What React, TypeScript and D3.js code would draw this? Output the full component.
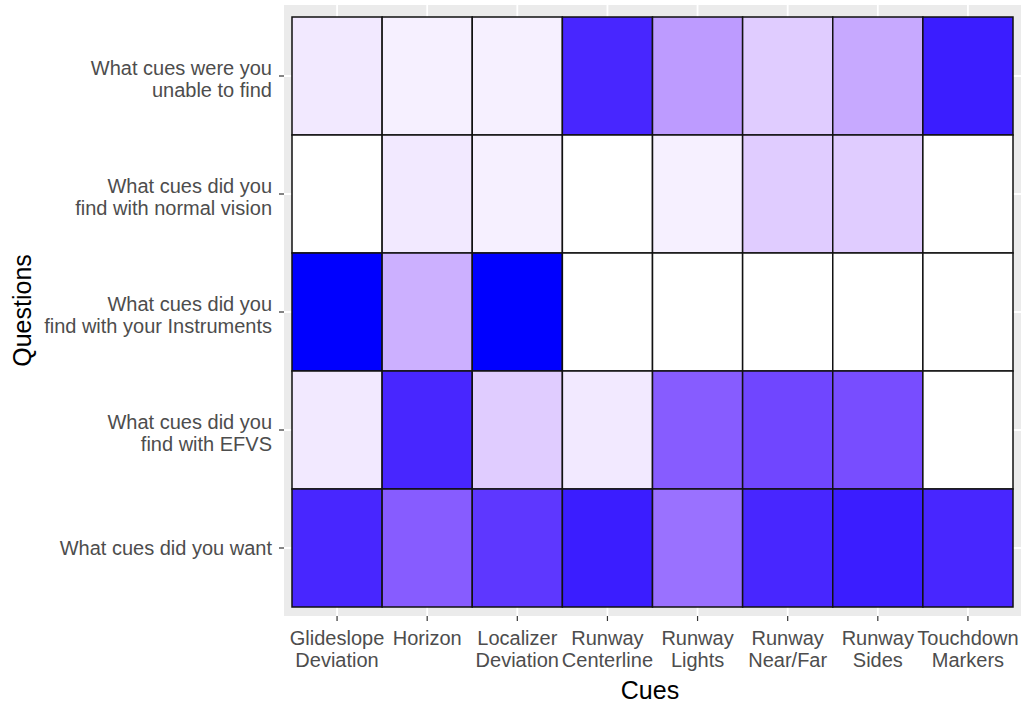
import * as d3 from "d3";

// questions, top row first
const questions = [
  "What cues were you\nunable to find",
  "What cues did you\nfind with normal vision",
  "What cues did you\nfind with your Instruments",
  "What cues did you\nfind with EFVS",
  "What cues did you want",
];
const cues = [
  "Glideslope\nDeviation",
  "Horizon",
  "Localizer\nDeviation",
  "Runway\nCenterline",
  "Runway\nLights",
  "Runway\nNear/Far",
  "Runway\nSides",
  "Touchdown\nMarkers",
];

// counts per question, one value per cue (same order as cues)
const unableToFind = [3, 2, 2, 30, 14, 7, 12, 31];
const normalVision = [0, 3, 2, 0, 2, 7, 7, 0];
const instruments = [33, 11, 33, 0, 0, 0, 0, 0];
const efvs = [3, 30, 7, 3, 23, 26, 25, 0];
const wanted = [30, 23, 28, 31, 20, 30, 31, 30];

const rows = [unableToFind, normalVision, instruments, efvs, wanted];

const W = 1024;
const H = 706;
const panel = { x0: 284, x1: 1021, y0: 5, y1: 616 };

const App = () => {
  const x = d3.scaleBand<string>().domain(cues).range([292, 1013]);
  const y = d3.scaleBand<string>().domain(questions).range([17, 607]);
  const fill = d3
    .scaleLinear<string>()
    .domain([0, d3.max(rows.flat()) as number])
    .range(["white", "blue"])
    .interpolate(d3.interpolateLab);

  const cells = rows.flatMap((vals, i) =>
    vals.map((v, j) => ({ q: questions[i], c: cues[j], v }))
  );
  const font = "'Liberation Sans', Arial, sans-serif";

  return (
    <div style={{ position: "absolute", left: 0, top: 0 }}>
      <svg width={W} height={H} style={{ display: "block", background: "white" }}>
        <rect
          x={panel.x0}
          y={panel.y0}
          width={panel.x1 - panel.x0}
          height={panel.y1 - panel.y0}
          fill="#EBEBEB"
        />
        {cues.map((c) => (
          <line
            key={"gx" + c}
            x1={x(c)! + x.bandwidth() / 2}
            x2={x(c)! + x.bandwidth() / 2}
            y1={panel.y0}
            y2={panel.y1}
            stroke="white"
            strokeWidth={1.8}
          />
        ))}
        {questions.map((q) => (
          <line
            key={"gy" + q}
            x1={panel.x0}
            x2={panel.x1}
            y1={y(q)! + y.bandwidth() / 2}
            y2={y(q)! + y.bandwidth() / 2}
            stroke="white"
            strokeWidth={1.8}
          />
        ))}
        {cells.map((d) => (
          <rect
            key={d.q + d.c}
            x={x(d.c)}
            y={y(d.q)}
            width={x.bandwidth()}
            height={y.bandwidth()}
            fill={fill(d.v)}
            stroke="#111"
            strokeWidth={1.5}
          />
        ))}

        {/* x axis */}
        {cues.map((c) => {
          const cx = x(c)! + x.bandwidth() / 2;
          return (
            <g key={"xt" + c}>
              <line x1={cx} x2={cx} y1={panel.y1} y2={panel.y1 + 5} stroke="#333" strokeWidth={1.2} />
              {c.split("\n").map((t, k) => (
                <text
                  key={k}
                  x={cx}
                  y={645 + k * 22}
                  textAnchor="middle"
                  fontFamily={font}
                  fontSize={20}
                  fill="#4D4D4D"
                >
                  {t}
                </text>
              ))}
            </g>
          );
        })}

        {/* y axis */}
        {questions.map((q) => {
          const cy = y(q)! + y.bandwidth() / 2;
          const lines = q.split("\n");
          return (
            <g key={"yt" + q}>
              <line x1={panel.x0 - 5} x2={panel.x0} y1={cy} y2={cy} stroke="#333" strokeWidth={1.2} />
              {lines.map((t, k) => (
                <text
                  key={k}
                  x={272}
                  y={lines.length === 1 ? cy + 7 : cy - 1 + k * 21.5}
                  textAnchor="end"
                  fontFamily={font}
                  fontSize={20}
                  fill="#4D4D4D"
                >
                  {t}
                </text>
              ))}
            </g>
          );
        })}

        <text x={650} y={699} textAnchor="middle" fontFamily={font} fontSize={25} fill="black">
          Cues
        </text>
        <text
          transform={`translate(31, ${(panel.y0 + panel.y1) / 2}) rotate(-90)`}
          textAnchor="middle"
          fontFamily={font}
          fontSize={25}
          fill="black"
        >
          Questions
        </text>
      </svg>
    </div>
  );
};

export default App;
